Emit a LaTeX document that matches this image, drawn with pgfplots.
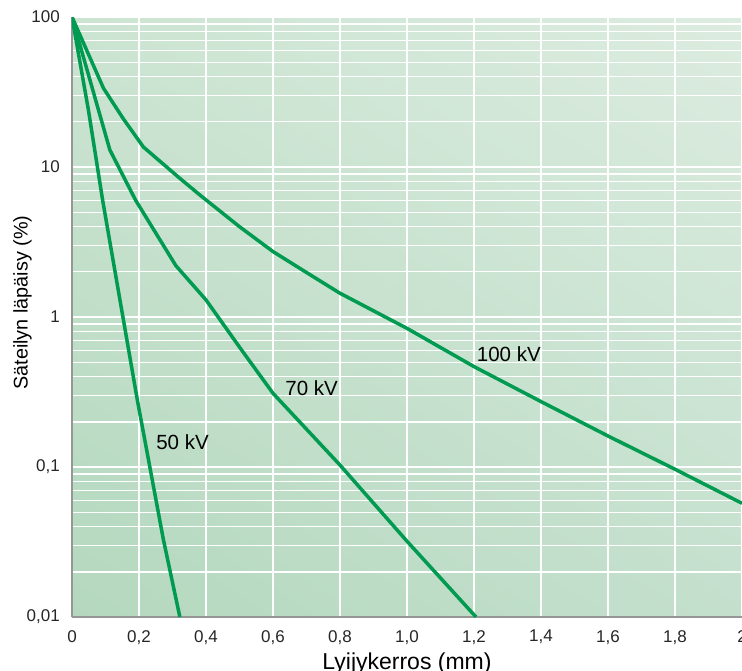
\documentclass[border=0pt]{standalone}
\usepackage{fontspec}
\setmainfont{Liberation Sans}
\usepackage{pgfplots}
\pgfplotsset{compat=1.18}
\usetikzlibrary{shadings}

\definecolor{curve}{RGB}{0,154,80}
\definecolor{axisgray}{RGB}{150,150,150}
\definecolor{bgll}{RGB}{180,216,190}
\definecolor{bglr}{RGB}{196,224,205}
\definecolor{bgul}{RGB}{204,228,210}
\definecolor{bgur}{RGB}{220,236,224}

\begin{document}
\begin{tikzpicture}
  \begin{axis}[
      scale only axis,
      width=670pt, height=600pt,
      xmin=0, xmax=2,
      ymode=log, ymin=0.01, ymax=100,
      axis lines*=left,
      axis line style={axisgray, line width=2.5pt},
      axis background/.style={shade,
        lower left=bgll, lower right=bglr,
        upper left=bgul, upper right=bgur},
      xtick={0,0.2,0.4,0.6,0.8,1.0,1.2,1.4,1.6,1.8,2},
      xticklabels={\mbox{0},\mbox{0,2},\mbox{0,4},\mbox{0,6},\mbox{0,8},\mbox{1,0},\mbox{1,2},\mbox{1,4},\mbox{1,6},\mbox{1,8},\mbox{2}},
      ytick={0.01,0.1,1,10,100},
      yticklabels={\mbox{0,01},\mbox{0,1},\mbox{1},\mbox{10},\mbox{100}},
      major tick length=0pt, minor tick length=0pt,
      xmajorgrids, ymajorgrids, yminorgrids,
      grid style={white, line width=1.4pt},
      minor grid style={white, line width=1.3pt},
      tick label style={font=\fontsize{17pt}{20pt}\selectfont, text=black!85, inner sep=0pt},
      every x tick label/.append style={yshift=-13pt},
      every y tick label/.append style={xshift=-12pt},
      xlabel={Lyijykerros (mm)},
      ylabel={Säteilyn läpäisy (\%)},
      every axis x label/.style={at={(axis description cs:0.5,-0.0867)}, anchor=base,
        font=\fontsize{23pt}{26pt}\selectfont},
      every axis y label/.style={at={(axis description cs:-0.0739,0.524)}, rotate=90, anchor=center,
        font=\fontsize{19.8pt}{23pt}\selectfont},
      clip=true,
    ]
    % 50 kV
    \addplot[curve, line width=3.5pt, line join=round] coordinates {
      (0,100) (0.049,24) (0.0915,6.0) (0.195,0.28) (0.2726,0.033) (0.322,0.01)
    };
    % 70 kV
    \addplot[curve, line width=3.5pt, line join=round] coordinates {
      (0,100) (0.113,13) (0.19,6.0) (0.31,2.2) (0.4,1.3) (0.5,0.63)
      (0.6,0.31) (0.8,0.103) (1.0,0.032) (1.206,0.01)
    };
    % 100 kV
    \addplot[curve, line width=3.5pt, line join=round] coordinates {
      (0,100) (0.094,33.5) (0.153,21) (0.213,13.6) (0.322,8.4) (0.382,6.5)
      (0.5,4.0) (0.6,2.73) (0.7,1.98) (0.8,1.44) (1.0,0.84) (1.2,0.467)
      (1.4,0.273) (1.6,0.161) (1.8,0.0966) (2.0,0.0573)
    };
    \node[font=\fontsize{20.5pt}{24pt}\selectfont, inner sep=0pt] at (axis cs:1.304,0.569) {100 kV};
    \node[font=\fontsize{20.5pt}{24pt}\selectfont, inner sep=0pt] at (axis cs:0.7155,0.336) {70 kV};
    \node[font=\fontsize{20.5pt}{24pt}\selectfont, inner sep=0pt] at (axis cs:0.33,0.147) {50 kV};
  \end{axis}
  \pgfresetboundingbox
  \path[use as bounding box] (-72pt,-53pt) rectangle (670pt,617pt);
\end{tikzpicture}
\end{document}
